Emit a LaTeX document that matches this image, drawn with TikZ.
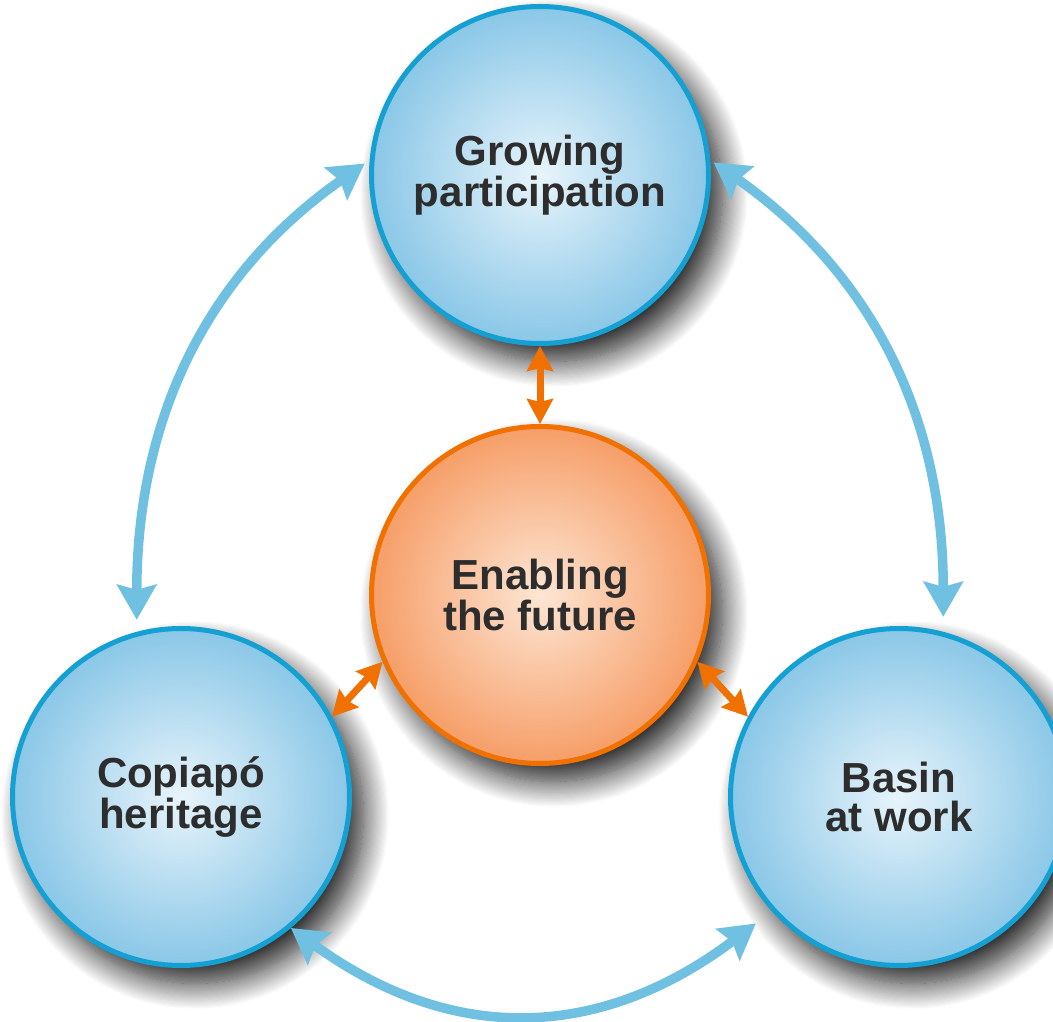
\documentclass[tikz,border=0pt]{standalone}
\usepackage{fontspec}
\setmainfont{Liberation Sans}
\usetikzlibrary{arrows.meta,shadows.blur}
\definecolor{rimblue}{RGB}{20,160,210}
\definecolor{edgeblue}{RGB}{138,199,231}
\definecolor{coreblue}{RGB}{232,244,251}
\definecolor{arrowblue}{RGB}{112,192,226}
\definecolor{rimorange}{RGB}{240,112,0}
\definecolor{edgeorange}{RGB}{246,158,104}
\definecolor{coreorange}{RGB}{253,230,212}
\definecolor{inkgray}{RGB}{45,45,45}
\tikzset{
    >=Stealth,
    bubble/.style={circle,draw,line width=5pt,minimum size=337pt,inner sep=0pt,align=center,
        font=\fontsize{42}{39}\selectfont\bfseries,text=inkgray,shading=radial,
        blur shadow={shadow xshift=14pt,shadow yshift=-18pt,shadow blur radius=26pt,
            shadow blur steps=24,shadow opacity=90}},
    topic/.style={bubble,draw=rimblue,inner color=coreblue,outer color=edgeblue},
    core/.style={bubble,draw=rimorange,inner color=coreorange,outer color=edgeorange},
    flow/.style={draw=arrowblue,line width=9.5pt,
        arrows={Stealth[length=35pt,width=39pt,inset=5pt]-Stealth[length=35pt,width=39pt,inset=5pt]}},
    tie/.style={draw=rimorange,line width=7pt,
        arrows={Stealth[length=25pt,width=26pt,inset=3pt]-Stealth[length=25pt,width=26pt,inset=3pt]}}
}

\begin{document}
\begin{tikzpicture}[x=1pt,y=1pt]
    \useasboundingbox (0,0) rectangle (1053,1021);

    \node[topic] (gp) at (540, 846) {Growing\\participation};
    \node[core] (ef) at (540, 426) {Enabling\\the future};
    \node[topic] (ch) at (181, 224) {Copiapó\\heritage};
    \node[topic] (bw) at (899, 224) {Basin\\at work};

    % outer ring
    \draw[flow,shorten <=12pt,shorten >=6pt] (ch.105) to[out=90,in=215] (gp.175);
    \draw[flow,shorten <=4pt,shorten >=15pt] (gp.5) to[out=-35,in=90] (bw.75);
    \draw[flow,shorten <=20pt] (bw.222) to[out=217,in=324,looseness=1.1] (ch.310);

    % spokes
    \draw[tie] (gp.south) -- (ef.north);
    \draw[tie] (ef.203) -- (ch.28);
    \draw[tie] (ef.337) -- (bw.152);
\end{tikzpicture}
\end{document}
